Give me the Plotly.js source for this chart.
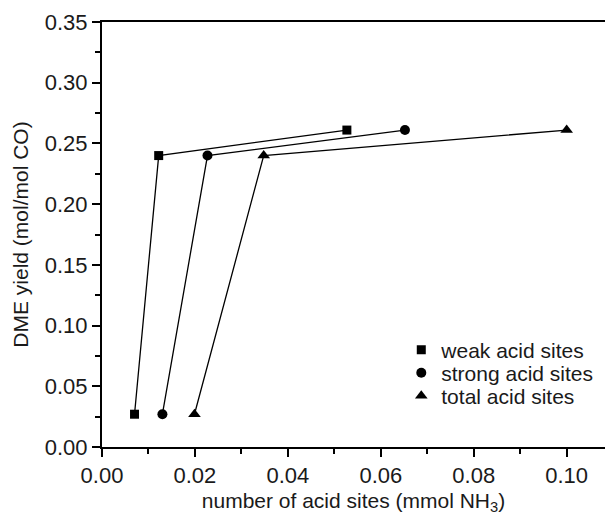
<!DOCTYPE html>
<html>
<head>
<meta charset="utf-8">
<script src="https://cdn.plot.ly/plotly-3.0.1.min.js"></script>
<style>html,body{margin:0;padding:0;background:#fff;}#chart{width:605px;height:515px;}</style>
</head>
<body>
<div id="chart"></div>
<script>
const seriesNames = ["weak acid sites", "strong acid sites", "total acid sites"];
const weakX = [0.0070, 0.0122, 0.0527];
const weakY = [0.027, 0.240, 0.261];
const strongX = [0.0130, 0.0227, 0.0652];
const strongY = [0.027, 0.240, 0.261];
const totalX = [0.0199, 0.0348, 0.1000];
const totalY = [0.027, 0.240, 0.261];
const xTickVals = [0, 0.02, 0.04, 0.06, 0.08, 0.10];
const xTickText = ["0.00", "0.02", "0.04", "0.06", "0.08", "0.10"];
const yTickVals = [0, 0.05, 0.10, 0.15, 0.20, 0.25, 0.30, 0.35];
const yTickText = ["0.00", "0.05", "0.10", "0.15", "0.20", "0.25", "0.30", "0.35"];

const symbols = ["square", "circle", "triangle-up"];
const sizes = [9, 10, 11];
const xs = [weakX, strongX, totalX];
const ys = [weakY, strongY, totalY];
const legendIds = ["legend", "legend2", "legend3"];
const legendY = [0.228, 0.174, 0.12];

const traces = [];
seriesNames.forEach((n, i) => {
  traces.push({
    x: xs[i], y: ys[i], name: n, type: "scatter", mode: "lines",
    showlegend: false, line: {color: "#000", width: 1.3}
  });
});
seriesNames.forEach((n, i) => {
  traces.push({
    x: xs[i], y: ys[i], name: n, type: "scatter", mode: "markers",
    legend: legendIds[i], showlegend: true,
    marker: {symbol: symbols[i], size: sizes[i], color: "#000"}
  });
});

const fontFam = "Liberation Sans, Arial, sans-serif";
const txtColor = "#1a1a1a";
function legendCfg(y) {
  return {x: 0.595, y: y, xanchor: "left", yanchor: "middle", bgcolor: "rgba(0,0,0,0)",
          borderwidth: 0, font: {family: fontFam, size: 21, color: txtColor}};
}
const layout = {
  width: 605, height: 515,
  margin: {l: 102, r: 0, t: 22, b: 68, pad: 0},
  paper_bgcolor: "#fff", plot_bgcolor: "#fff",
  font: {family: fontFam, size: 21, color: txtColor},
  showlegend: true,
  legend: legendCfg(legendY[0]),
  legend2: legendCfg(legendY[1]),
  legend3: legendCfg(legendY[2]),
  xaxis: {
    range: [0, 0.10825], tickvals: xTickVals, ticktext: xTickText,
    showgrid: false, zeroline: false, showline: true, linecolor: "#000", linewidth: 2,
    mirror: true, ticks: "outside", ticklen: 8, tickwidth: 2, tickcolor: "#000",
    minor: {dtick: 0.01, tick0: 0, ticks: "outside", ticklen: 5, tickwidth: 2, tickcolor: "#000"},
    tickfont: {family: fontFam, size: 22, color: txtColor},
    title: {text: "number of acid sites (mmol NH<sub>3</sub>)", font: {family: fontFam, size: 21, color: txtColor}, standoff: 10}
  },
  yaxis: {
    range: [0, 0.35], tickvals: yTickVals, ticktext: yTickText,
    showgrid: false, zeroline: false, showline: true, linecolor: "#000", linewidth: 2,
    ticks: "outside", ticklen: 8, tickwidth: 2, tickcolor: "#000",
    minor: {dtick: 0.025, tick0: 0, ticks: "outside", ticklen: 5, tickwidth: 2, tickcolor: "#000"},
    tickfont: {family: fontFam, size: 22, color: txtColor},
    title: {text: "DME yield (mol/mol CO)", font: {family: fontFam, size: 21, color: txtColor}, standoff: 10}
  }
};
Plotly.newPlot("chart", traces, layout, {displayModeBar: false, staticPlot: true});
</script>
</body>
</html>
